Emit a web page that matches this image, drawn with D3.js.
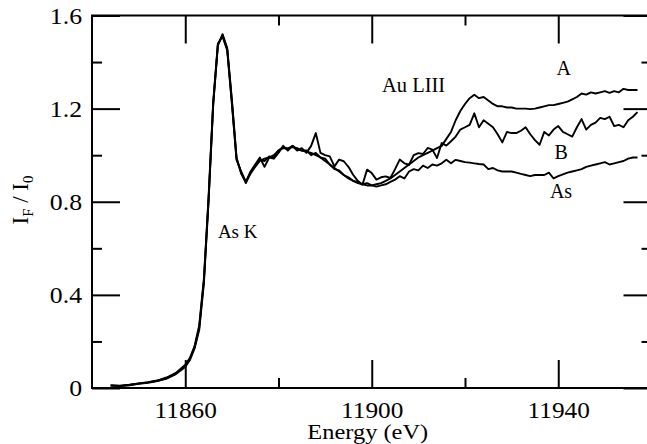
<!DOCTYPE html>
<html>
<head>
<meta charset="utf-8">
<script src="https://cdn.jsdelivr.net/npm/d3@7"></script>
<style>
  html, body { margin: 0; padding: 0; background: #fff; }
  svg { display: block; }
</style>
</head>
<body>
<svg id="chart" width="647" height="444"></svg>
<script>
// ---------- data ----------
const energy = [
  11844, 11846, 11848, 11850, 11852, 11854, 11856, 11858,
  11860, 11861, 11862, 11863, 11864, 11865, 11866, 11867, 11868, 11869,
  11870, 11871, 11872, 11873, 11874, 11875, 11876, 11877, 11878, 11879,
  11880, 11881, 11882, 11883, 11884, 11885, 11886, 11887, 11888, 11889,
  11890, 11891, 11892, 11893, 11894, 11895, 11896, 11897, 11898, 11899,
  11900, 11901, 11902, 11903, 11904, 11905, 11906, 11907, 11908, 11909,
  11910, 11911, 11912, 11913, 11914, 11915, 11916, 11917, 11918, 11919,
  11920, 11921, 11922, 11923, 11924, 11925, 11926, 11927, 11928, 11929,
  11930, 11931, 11932, 11933, 11934, 11935, 11936, 11937, 11938, 11939,
  11940, 11941, 11942, 11943, 11944, 11945, 11946, 11947, 11948, 11949,
  11950, 11951, 11952, 11953, 11954, 11955, 11956, 11957
];
const seriesA = [
  0.010, 0.008, 0.012, 0.018, 0.022, 0.030, 0.040, 0.060,
  0.090, 0.120, 0.170, 0.250, 0.450, 0.800, 1.220, 1.470, 1.520, 1.460,
  1.240, 0.990, 0.920, 0.885, 0.920, 0.950, 0.975, 0.985, 0.990, 1.000,
  1.020, 1.030, 1.030, 1.035, 1.030, 1.020, 1.015, 1.010, 1.000, 0.990,
  0.975, 0.960, 0.945, 0.930, 0.915, 0.900, 0.890, 0.880, 0.875, 0.870,
  0.870, 0.875, 0.880, 0.890, 0.900, 0.915, 0.930, 0.945, 0.960, 0.975,
  0.990, 1.000, 1.010, 1.020, 1.030, 1.040, 1.070, 1.100, 1.150, 1.190,
  1.220, 1.245, 1.260, 1.245, 1.250, 1.235, 1.220, 1.210, 1.210, 1.205,
  1.205, 1.200, 1.200, 1.200, 1.198, 1.200, 1.205, 1.210, 1.215, 1.215,
  1.220, 1.225, 1.230, 1.240, 1.250, 1.265, 1.260, 1.270, 1.265, 1.270,
  1.275, 1.268, 1.275, 1.270, 1.285, 1.280, 1.280, 1.280
];
const seriesB = [
  0.012, 0.010, 0.014, 0.020, 0.025, 0.032, 0.045, 0.065,
  0.100, 0.130, 0.180, 0.270, 0.470, 0.820, 1.230, 1.480, 1.510, 1.450,
  1.220, 0.980, 0.930, 0.885, 0.930, 0.960, 0.990, 0.950, 0.990, 0.985,
  1.010, 1.040, 1.020, 1.040, 1.020, 1.030, 1.010, 1.040, 1.095, 1.010,
  1.000, 0.995, 0.952, 0.981, 0.974, 0.950, 0.916, 0.890, 0.873, 0.938,
  0.923, 0.895, 0.905, 0.909, 0.902, 0.940, 0.981, 0.965, 0.959, 1.000,
  1.009, 1.005, 1.031, 1.024, 0.988, 1.052, 1.041, 1.060, 1.080, 1.110,
  1.120, 1.130, 1.180, 1.120, 1.150, 1.135, 1.120, 1.090, 1.055, 1.100,
  1.095, 1.095, 1.105, 1.120, 1.090, 1.065, 1.045, 1.100, 1.085, 1.110,
  1.125, 1.100, 1.090, 1.080, 1.120, 1.155, 1.110, 1.130, 1.140, 1.160,
  1.155, 1.165, 1.125, 1.130, 1.120, 1.150, 1.165, 1.185
];
const seriesAs = [
  0.010, 0.009, 0.013, 0.019, 0.024, 0.031, 0.042, 0.062,
  0.095, 0.125, 0.175, 0.260, 0.460, 0.810, 1.220, 1.475, 1.515, 1.455,
  1.230, 0.985, 0.925, 0.880, 0.925, 0.955, 0.980, 0.975, 0.995, 0.990,
  1.020, 1.035, 1.025, 1.040, 1.025, 1.020, 1.020, 1.000, 1.010, 0.990,
  0.985, 0.960, 0.940, 0.935, 0.915, 0.905, 0.890, 0.885, 0.875, 0.880,
  0.870, 0.865, 0.870, 0.875, 0.885, 0.895, 0.910, 0.900, 0.930, 0.940,
  0.935, 0.955, 0.945, 0.960, 0.955, 0.965, 0.980, 0.965, 0.980, 0.975,
  0.970, 0.968, 0.965, 0.962, 0.960, 0.940, 0.945, 0.935, 0.930, 0.930,
  0.930, 0.925, 0.920, 0.915, 0.910, 0.915, 0.915, 0.915, 0.925, 0.900,
  0.910, 0.918, 0.925, 0.930, 0.935, 0.940, 0.950, 0.955, 0.960, 0.965,
  0.970, 0.960, 0.965, 0.970, 0.975, 0.985, 0.990, 0.990
];
const xMajorTicks = [11860, 11900, 11940];
const xMinorTicks = [11880, 11920];
const yMajorTicks = [0, 0.4, 0.8, 1.2, 1.6];
const yMinorTicks = [0.2, 0.6, 1.0, 1.4];
const yTickLabels = ["0", "0.4", "0.8", "1.2", "1.6"];
const xTickLabels = ["11860", "11900", "11940"];

// ---------- layout ----------
const svg = d3.select("#chart");
const FONT = "'Liberation Serif', 'Times New Roman', serif";
const L = 92, R = 651.5, T = 15.5, B = 388;
const x = d3.scaleLinear().domain([11840, 11960]).range([L, R]);
const y = d3.scaleLinear().domain([0, 1.6]).range([B, T]);
const MAJ = 28, MIN = 10;

function stretch(sel, k) {
  sel.each(function () {
    const w = this.getComputedTextLength();
    d3.select(this).attr("textLength", w * k).attr("lengthAdjust", "spacingAndGlyphs");
  });
}
function styleAxis(g) {
  g.select(".domain").remove();
  g.selectAll(".tick line").attr("stroke", "#000").attr("stroke-width", 2);
}

// bottom
svg.append("g").attr("transform", `translate(0,${B})`)
  .call(d3.axisBottom(x).tickValues(xMajorTicks).tickSize(-MAJ).tickPadding(14)
    .tickFormat((d, i) => xTickLabels[i]))
  .call(styleAxis)
  .call(g => g.selectAll("text").attr("font-size", 23).attr("fill", "#000")
    .style("font-family", FONT).attr("y", 29.5).attr("dy", null)
    .call(stretch, 1.1));
svg.append("g").attr("transform", `translate(0,${B})`)
  .call(d3.axisBottom(x).tickValues(xMinorTicks).tickSize(-MIN).tickFormat(""))
  .call(styleAxis);
// top
svg.append("g").attr("transform", `translate(0,${T})`)
  .call(d3.axisTop(x).tickValues(xMajorTicks).tickSize(-MAJ).tickFormat(""))
  .call(styleAxis);
svg.append("g").attr("transform", `translate(0,${T})`)
  .call(d3.axisTop(x).tickValues(xMinorTicks).tickSize(-MIN).tickFormat(""))
  .call(styleAxis);
// left
svg.append("g").attr("transform", `translate(${L},0)`)
  .call(d3.axisLeft(y).tickValues(yMajorTicks).tickSize(-MAJ).tickPadding(10)
    .tickFormat((d, i) => yTickLabels[i]))
  .call(styleAxis)
  .call(g => g.selectAll("text").attr("font-size", 23).attr("fill", "#000")
    .style("font-family", FONT).attr("dy", "0.34em")
    .call(stretch, 1.12));
svg.append("g").attr("transform", `translate(${L},0)`)
  .call(d3.axisLeft(y).tickValues(yMinorTicks).tickSize(-MIN).tickFormat(""))
  .call(styleAxis);
// right
svg.append("g").attr("transform", `translate(${R},0)`)
  .call(d3.axisRight(y).tickValues(yMajorTicks).tickSize(-MAJ).tickFormat(""))
  .call(styleAxis);
svg.append("g").attr("transform", `translate(${R},0)`)
  .call(d3.axisRight(y).tickValues(yMinorTicks).tickSize(-MIN).tickFormat(""))
  .call(styleAxis);

// frame
svg.append("rect").attr("x", L).attr("y", T).attr("width", R - L).attr("height", B - T)
  .attr("fill", "none").attr("stroke", "#000").attr("stroke-width", 2);

// curves
const line = d3.line().x((d, i) => x(energy[i])).y(d => y(d));
[seriesAs, seriesB, seriesA].forEach(s => {
  svg.append("path").datum(s).attr("d", line)
    .attr("fill", "none").attr("stroke", "#000").attr("stroke-width", 1.9)
    .attr("stroke-linejoin", "round");
});

// axis titles
svg.append("text").attr("x", x(11900) - 4).attr("y", 438.5).attr("text-anchor", "middle")
  .style("font-family", FONT).attr("font-size", 20).text("Energy (eV)")
  .call(stretch, 1.22);
const yt = svg.append("text").attr("transform", "translate(28,200) rotate(-90)")
  .attr("text-anchor", "middle").style("font-family", FONT).attr("font-size", 23);
yt.append("tspan").text("I");
yt.append("tspan").attr("font-size", 15).attr("dy", 5).text("F");
yt.append("tspan").attr("dy", -5).text(" / I");
yt.append("tspan").attr("font-size", 15).attr("dy", 5).text("0");

// annotations
const ann = (t, e, v, anchor, fs) => svg.append("text").attr("x", x(e)).attr("y", y(v))
  .attr("text-anchor", anchor).style("font-family", FONT).attr("font-size", fs).text(t);
ann("Au LIII", 11902.2, 1.273, "start", 20.5);
ann("A", 11941.2, 1.346, "middle", 20);
ann("B", 11940.6, 0.985, "middle", 20);
ann("As", 11940.6, 0.817, "middle", 20);
ann("As K", 11867, 0.645, "start", 19);
</script>
</body>
</html>
